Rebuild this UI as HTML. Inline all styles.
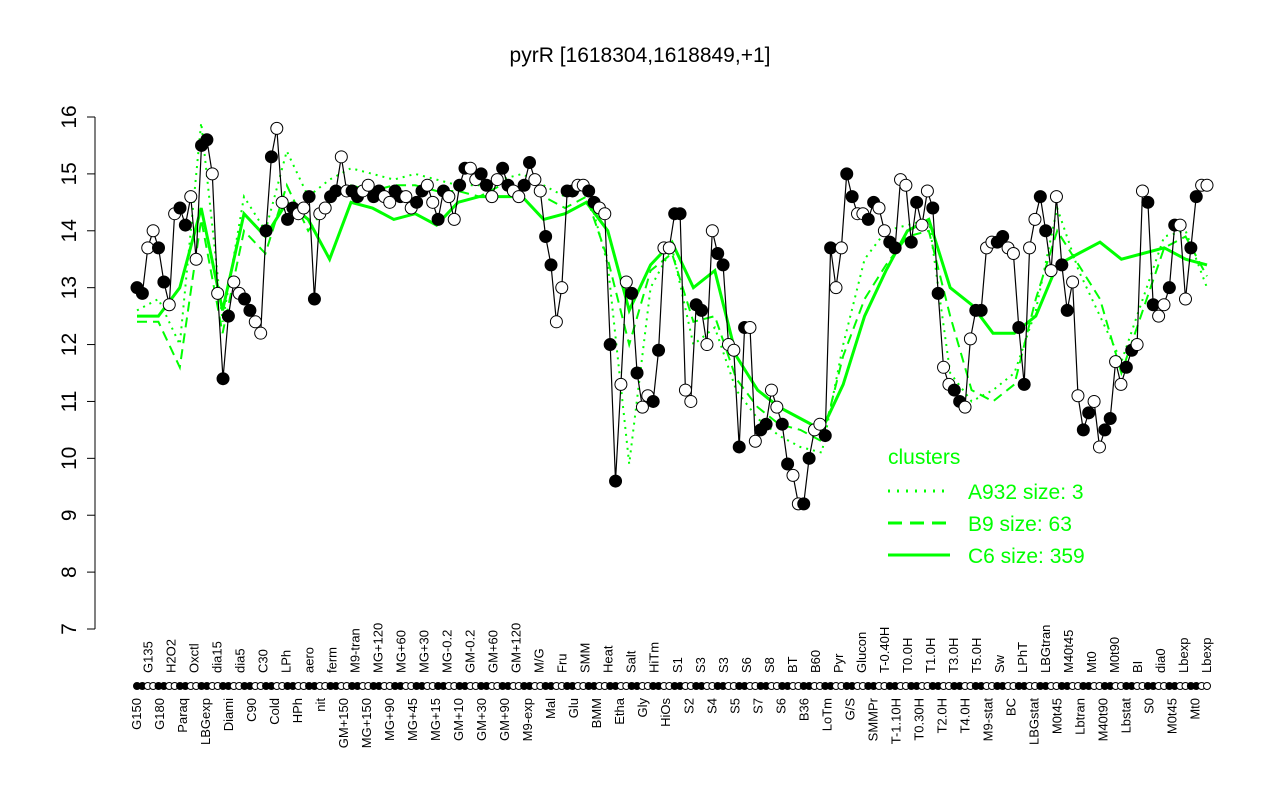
<!DOCTYPE html>
<html><head><meta charset="utf-8"><style>
body{margin:0;background:#fff;font-family:"Liberation Sans",Arial,sans-serif}
svg text{font-family:"Liberation Sans",Arial,sans-serif}
</style></head><body>
<svg id="chart" width="1280" height="800" xmlns="http://www.w3.org/2000/svg">
<text x="640" y="62" text-anchor="middle" font-size="21">pyrR [1618304,1618849,+1]</text>
<g id="axis"></g>
<g id="green"></g>
<g id="series"></g>
<g id="rug"></g>
<g id="xlabels"></g>
<g>
<text x="888" y="464" font-size="21" fill="#00ff00">clusters</text>
<line x1="888" y1="491" x2="950" y2="491" stroke="#00ff00" stroke-width="3" stroke-dasharray="2,7"/>
<text x="968" y="499" font-size="21" fill="#00ff00">A932 size: 3</text>
<line x1="888" y1="523" x2="950" y2="523" stroke="#00ff00" stroke-width="3" stroke-dasharray="14,8"/>
<text x="968" y="531" font-size="21" fill="#00ff00">B9 size: 63</text>
<line x1="888" y1="555" x2="950" y2="555" stroke="#00ff00" stroke-width="3"/>
<text x="968" y="563" font-size="21" fill="#00ff00">C6 size: 359</text>
</g>
</svg>
<script>
const values=[13.0,12.9,13.7,14.0,13.7,13.1,12.7,14.3,14.4,14.1,
14.6,13.5,15.5,15.6,15.0,12.9,11.4,12.5,13.1,12.9,
12.8,12.6,12.4,12.2,14.0,15.3,15.8,14.5,14.2,14.4,
14.3,14.4,14.6,12.8,14.3,14.4,14.6,14.7,15.3,14.7,
14.7,14.6,14.7,14.8,14.6,14.7,14.6,14.5,14.7,14.6,
14.6,14.4,14.5,14.7,14.8,14.5,14.2,14.7,14.6,14.2,
14.8,15.1,15.1,14.9,15.0,14.8,14.6,14.9,15.1,14.8,
14.7,14.6,14.8,15.2,14.9,14.7,13.9,13.4,12.4,13.0,
14.7,14.7,14.8,14.8,14.7,14.5,14.4,14.3,12.0,9.6,
11.3,13.1,12.9,11.5,10.9,11.1,11.0,11.9,13.7,13.7,
14.3,14.3,11.2,11.0,12.7,12.6,12.0,14.0,13.6,13.4,
12.0,11.9,10.2,12.3,12.3,10.3,10.5,10.6,11.2,10.9,
10.6,9.9,9.7,9.2,9.2,10.0,10.5,10.6,10.4,13.7,
13.0,13.7,15.0,14.6,14.3,14.3,14.2,14.5,14.4,14.0,
13.8,13.7,14.9,14.8,13.8,14.5,14.1,14.7,14.4,12.9,
11.6,11.3,11.2,11.0,10.9,12.1,12.6,12.6,13.7,13.8,
13.8,13.9,13.7,13.6,12.3,11.3,13.7,14.2,14.6,14.0,
13.3,14.6,13.4,12.6,13.1,11.1,10.5,10.8,11.0,10.2,
10.5,10.7,11.7,11.3,11.6,11.9,12.0,14.7,14.5,12.7,
12.5,12.7,13.0,14.1,14.1,12.8,13.7,14.6,14.8,14.8];
const c6=[12.5,12.5,13.0,14.4,12.6,14.3,13.9,14.5,14.2,13.5,14.5,14.4,14.2,14.3,14.1,14.5,14.6,14.6,14.6,14.2,14.3,14.5,14.0,12.6,13.4,13.8,13.0,13.3,11.8,11.2,10.9,10.7,10.5,11.3,12.5,13.3,14.0,14.2,13.0,12.7,12.2,12.2,12.5,13.4,13.6,13.8,13.5,13.6,13.7,13.5,13.4];
const b9=[12.4,12.4,11.6,14.2,12.2,14.0,13.6,14.8,14.0,14.5,14.8,14.7,14.8,14.8,14.7,14.7,14.6,14.8,14.8,14.6,14.4,14.6,13.5,12.0,13.3,13.6,12.4,12.5,11.4,10.9,10.6,10.5,10.3,11.8,12.8,13.4,13.9,14.0,12.5,11.2,11.0,11.3,12.8,14.0,13.4,12.8,11.5,12.6,13.7,13.9,13.2];
const a932=[12.6,12.8,12.0,15.9,12.4,14.6,14.0,15.4,14.6,14.9,15.1,15.0,14.9,15.0,14.9,14.8,14.8,14.9,15.0,14.8,14.6,14.8,13.4,9.9,13.0,13.7,12.0,12.3,11.2,10.7,10.4,10.2,10.1,12.0,13.5,14.0,14.1,14.2,11.5,11.0,11.2,11.5,12.6,14.4,13.3,12.5,11.7,12.8,13.9,14.0,13.0];
const yTicks=[7,8,9,10,11,12,13,14,15,16];
const labels=["G150","G135","G180","H2O2","Paraq","Oxctl","LBGexp","dia15","Diami","dia5","C90","C30","Cold","LPh","HPh","aero","nit","ferm","GM+150","M9-tran","MG+150","MG+120","MG+90","MG+60","MG+45","MG+30","MG+15","MG-0.2","GM+10","GM-0.2","GM+30","GM+60","GM+90","GM+120","M9-exp","M/G","Mal","Fru","Glu","SMM","BMM","Heat","Etha","Salt","Gly","HiTm","HiOs","S1","S2","S3","S4","S3","S5","S6","S7","S8","S6","BT","B36","B60","LoTm","Pyr","G/S","Glucon","SMMPr","T-0.40H","T-1.10H","T0.0H","T0.30H","T1.0H","T2.0H","T3.0H","T4.0H","T5.0H","M9-stat","Sw","BC","LPhT","LBGstat","LBGtran","M0t45","M40t45","Lbtran","Mt0","M40t90","M0t90","Lbstat","BI","S0","dia0","M0t45","Lbexp","Mt0","Lbexp"];
const X0=137,X1=1207;
function y(v){return 629-(v-7)*(512/9);}
function xi(i,n){return X0+i*(X1-X0)/(n-1);}
const NS='http://www.w3.org/2000/svg';
function mk(t,a,p){const e=document.createElementNS(NS,t);for(const k in a)e.setAttribute(k,a[k]);p.appendChild(e);return e;}
const ax=document.getElementById('axis');
const al=mk('line',{x1:95,x2:95,y1:y(16),y2:y(7),stroke:'#000'},ax);


yTicks.forEach(t=>{
 const l=mk('line',{x1:87,x2:95,y1:y(t),y2:y(t),stroke:'#000'},ax);
 
 
 const tx=mk('text',{x:0,y:0,'font-size':21,'text-anchor':'middle',transform:`translate(76,${y(t)}) rotate(-90)`,dy:0},ax);
 
 
 tx.textContent=t;
});
const g=document.getElementById('green');
function gl(arr,dash,name){
 const d=arr.map((v,i)=>(i?'L':'M')+xi(i,arr.length).toFixed(1)+','+y(v).toFixed(1)).join('');
 const p=mk('path',{d:d,fill:'none',stroke:'#00ff00','stroke-width':dash==='solid'?3:2},g);
 if(dash!=='solid')p.setAttribute('stroke-dasharray',dash);
 
 
}
gl(a932,'2,5','cluster-a932-line');
gl(b9,'10,6','cluster-b9-line');
gl(c6,'solid','cluster-c6-line');
const s=document.getElementById('series');
const n=values.length;
const ln=mk('path',{d:values.map((v,i)=>(i?'L':'M')+xi(i,n).toFixed(1)+','+y(v).toFixed(1)).join(''),fill:'none',stroke:'#000','stroke-width':1.2},s);


const r=document.getElementById('rug');
values.forEach((v,i)=>{
 const filled=Math.floor(i/2)%2===0;
 const c=mk('circle',{cx:xi(i,n),cy:y(v),r:6,fill:filled?'#000':'#fff',stroke:'#000','stroke-width':1},s);
 
 
 const rc=mk('circle',{cx:xi(i,n),cy:686,r:3.5,fill:filled?'#000':'#fff',stroke:'#000','stroke-width':1},r);
 
 
});
const xl=document.getElementById('xlabels');
labels.forEach((lab,i)=>{
 const x=xi(i,labels.length)+4;
 const up=i%2===1;
 const t=mk('text',{'font-size':13,'text-anchor':up?'start':'end',transform:`translate(${x},${up?673:698}) rotate(-90)`},xl);
 
 
 t.textContent=lab;
});
</script>
</body></html>
